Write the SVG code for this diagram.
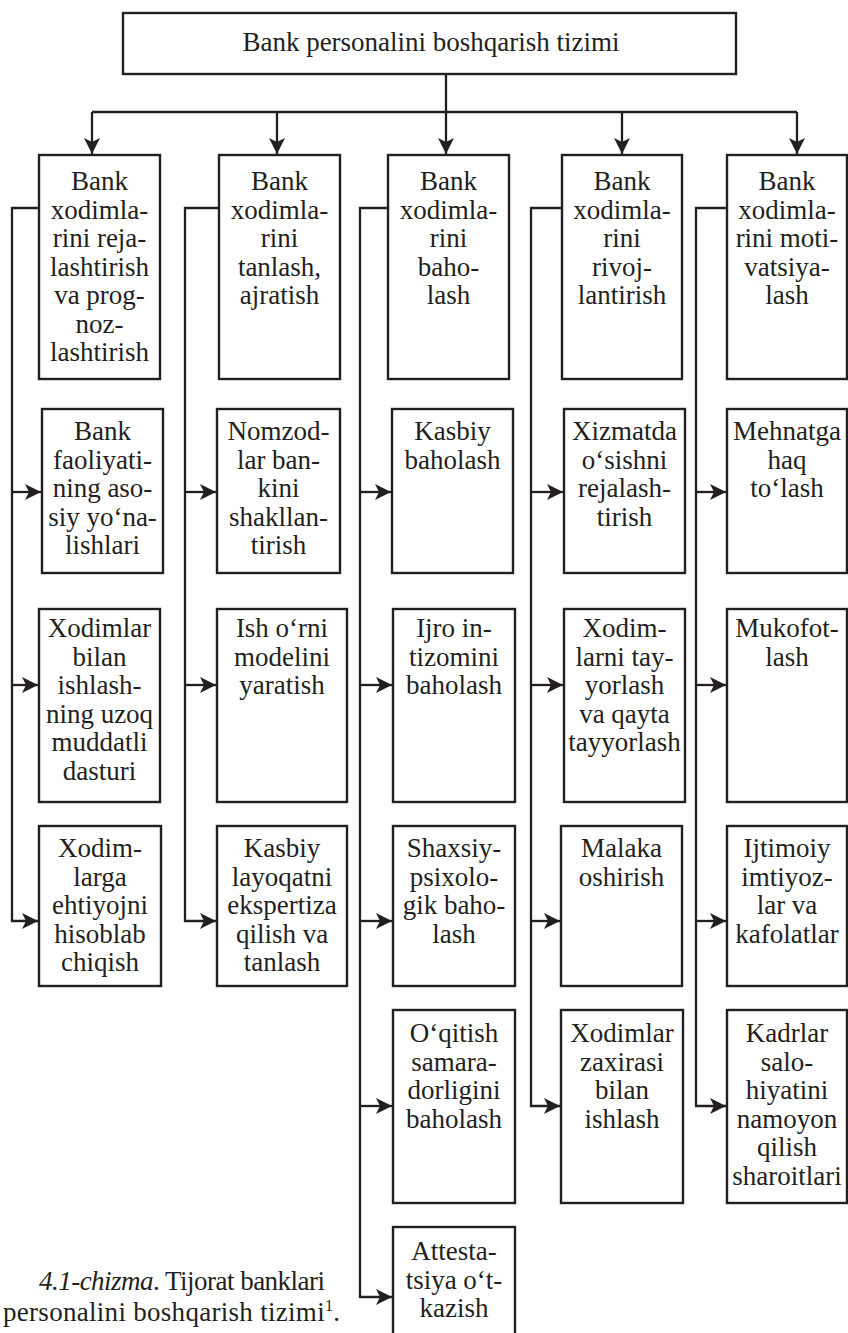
<svg xmlns="http://www.w3.org/2000/svg" width="848" height="1333" viewBox="0 0 848 1333">
  <style>
    .box { fill: #ffffff; stroke: #231f20; stroke-width: 2.4; }
    .con { fill: none; stroke: #231f20; stroke-width: 2.3; }
    .arr { marker-end: url(#head); }
    text { font-family: "Liberation Serif", "Times New Roman", serif; font-size: 27px; fill: #231f20; }
    .c { text-anchor: middle; }
    .it { font-style: italic; }
  </style>
  <defs>
    <marker id="head" viewBox="0 0 18 18" refX="17" refY="9" markerWidth="18" markerHeight="18" markerUnits="userSpaceOnUse" orient="auto">
      <path d="M17,9 L1,1 L5,9 L1,17 Z" fill="#231f20"/>
    </marker>
  </defs>

  <rect width="848" height="1333" fill="#ffffff"/>

  <!-- connectors -->
  <g id="connectors">
    <path class="con" d="M446,74 V112"/>
    <path class="con" d="M92,112 H797"/>
    <path class="con arr" d="M92,112 V154"/>
    <path class="con arr" d="M277,112 V154"/>
    <path class="con arr" d="M446,112 V154"/>
    <path class="con arr" d="M622,112 V154"/>
    <path class="con arr" d="M797,112 V154"/>

    <!-- column 1 -->
    <path class="con arr" d="M39,208 H12 V921 H38"/>
    <path class="con arr" d="M12,492 H41"/>
    <path class="con arr" d="M12,685 H38"/>
    <!-- column 2 -->
    <path class="con arr" d="M219,208 H185 V921 H216"/>
    <path class="con arr" d="M185,492 H216"/>
    <path class="con arr" d="M185,685 H216"/>
    <!-- column 3 -->
    <path class="con arr" d="M388,208 H360 V1297 H392"/>
    <path class="con arr" d="M360,492 H391"/>
    <path class="con arr" d="M360,685 H392"/>
    <path class="con arr" d="M360,921 H392"/>
    <path class="con arr" d="M360,1106 H392"/>
    <!-- column 4 -->
    <path class="con arr" d="M562,208 H531 V1106 H560"/>
    <path class="con arr" d="M531,492 H563"/>
    <path class="con arr" d="M531,685 H563"/>
    <path class="con arr" d="M531,921 H560"/>
    <!-- column 5 -->
    <path class="con arr" d="M727,208 H696 V1106 H726"/>
    <path class="con arr" d="M696,492 H726"/>
    <path class="con arr" d="M696,685 H726"/>
    <path class="con arr" d="M696,921 H726"/>
  </g>

  <!-- root -->
  <g id="root">
    <rect class="box" x="123" y="13" width="613" height="61"/>
    <text class="c" x="431" y="51">Bank personalini boshqarish tizimi</text>
  </g>

  <!-- column 1 -->
  <g id="c1r1">
    <rect class="box" x="39" y="155" width="121" height="224"/>
    <text class="c" x="99.5" y="190">Bank</text>
    <text class="c" x="99.5" y="218.5">xodimla-</text>
    <text class="c" x="99.5" y="247">rini reja-</text>
    <text class="c" x="99.5" y="275.5">lashtirish</text>
    <text class="c" x="99.5" y="304">va prog-</text>
    <text class="c" x="99.5" y="332.5">noz-</text>
    <text class="c" x="99.5" y="361">lashtirish</text>
  </g>
  <g id="c1r2">
    <rect class="box" x="42" y="409" width="121" height="164"/>
    <text class="c" x="102.5" y="440">Bank</text>
    <text class="c" x="102.5" y="468.5">faoliyati-</text>
    <text class="c" x="102.5" y="497">ning aso-</text>
    <text class="c" x="102.5" y="525.5">siy yo‘na-</text>
    <text class="c" x="102.5" y="554">lishlari</text>
  </g>
  <g id="c1r3">
    <rect class="box" x="39" y="609" width="121" height="193"/>
    <text class="c" x="99.5" y="637">Xodimlar</text>
    <text class="c" x="99.5" y="665.5">bilan</text>
    <text class="c" x="99.5" y="694">ishlash-</text>
    <text class="c" x="99.5" y="722.5">ning uzoq</text>
    <text class="c" x="99.5" y="751">muddatli</text>
    <text class="c" x="99.5" y="779.5">dasturi</text>
  </g>
  <g id="c1r4">
    <rect class="box" x="39" y="826" width="122" height="160"/>
    <text class="c" x="100" y="857">Xodim-</text>
    <text class="c" x="100" y="885.5">larga</text>
    <text class="c" x="100" y="914">ehtiyojni</text>
    <text class="c" x="100" y="942.5">hisoblab</text>
    <text class="c" x="100" y="971">chiqish</text>
  </g>

  <!-- column 2 -->
  <g id="c2r1">
    <rect class="box" x="219" y="155" width="121" height="224"/>
    <text class="c" x="279.5" y="190">Bank</text>
    <text class="c" x="279.5" y="218.5">xodimla-</text>
    <text class="c" x="279.5" y="247">rini</text>
    <text class="c" x="279.5" y="275.5">tanlash,</text>
    <text class="c" x="279.5" y="304">ajratish</text>
  </g>
  <g id="c2r2">
    <rect class="box" x="217" y="409" width="123" height="164"/>
    <text class="c" x="278.5" y="440">Nomzod-</text>
    <text class="c" x="278.5" y="468.5">lar ban-</text>
    <text class="c" x="278.5" y="497">kini</text>
    <text class="c" x="278.5" y="525.5">shakllan-</text>
    <text class="c" x="278.5" y="554">tirish</text>
  </g>
  <g id="c2r3">
    <rect class="box" x="217" y="609" width="130" height="193"/>
    <text class="c" x="282" y="637">Ish o‘rni</text>
    <text class="c" x="282" y="665.5">modelini</text>
    <text class="c" x="282" y="694">yaratish</text>
  </g>
  <g id="c2r4">
    <rect class="box" x="217" y="826" width="130" height="160"/>
    <text class="c" x="282" y="857">Kasbiy</text>
    <text class="c" x="282" y="885.5">layoqatni</text>
    <text class="c" x="282" y="914">ekspertiza</text>
    <text class="c" x="282" y="942.5">qilish va</text>
    <text class="c" x="282" y="971">tanlash</text>
  </g>

  <!-- column 3 -->
  <g id="c3r1">
    <rect class="box" x="388" y="155" width="121" height="224"/>
    <text class="c" x="448.5" y="190">Bank</text>
    <text class="c" x="448.5" y="218.5">xodimla-</text>
    <text class="c" x="448.5" y="247">rini</text>
    <text class="c" x="448.5" y="275.5">baho-</text>
    <text class="c" x="448.5" y="304">lash</text>
  </g>
  <g id="c3r2">
    <rect class="box" x="392" y="409" width="121" height="164"/>
    <text class="c" x="452.5" y="440">Kasbiy</text>
    <text class="c" x="452.5" y="468.5">baholash</text>
  </g>
  <g id="c3r3">
    <rect class="box" x="393" y="609" width="122" height="193"/>
    <text class="c" x="454" y="637">Ijro in-</text>
    <text class="c" x="454" y="665.5">tizomini</text>
    <text class="c" x="454" y="694">baholash</text>
  </g>
  <g id="c3r4">
    <rect class="box" x="393" y="826" width="122" height="160"/>
    <text class="c" x="454" y="857">Shaxsiy-</text>
    <text class="c" x="454" y="885.5">psixolo-</text>
    <text class="c" x="454" y="914">gik baho-</text>
    <text class="c" x="454" y="942.5">lash</text>
  </g>
  <g id="c3r5">
    <rect class="box" x="393" y="1010" width="122" height="193"/>
    <text class="c" x="454" y="1042">O‘qitish</text>
    <text class="c" x="454" y="1070.5">samara-</text>
    <text class="c" x="454" y="1099">dorligini</text>
    <text class="c" x="454" y="1127.5">baholash</text>
  </g>
  <g id="c3r6">
    <rect class="box" x="393" y="1227" width="122" height="120"/>
    <text class="c" x="454" y="1260">Attesta-</text>
    <text class="c" x="454" y="1288.5">tsiya o‘t-</text>
    <text class="c" x="454" y="1317">kazish</text>
  </g>

  <!-- column 4 -->
  <g id="c4r1">
    <rect class="box" x="562" y="155" width="120" height="224"/>
    <text class="c" x="622" y="190">Bank</text>
    <text class="c" x="622" y="218.5">xodimla-</text>
    <text class="c" x="622" y="247">rini</text>
    <text class="c" x="622" y="275.5">rivoj-</text>
    <text class="c" x="622" y="304">lantirish</text>
  </g>
  <g id="c4r2">
    <rect class="box" x="564" y="409" width="121" height="164"/>
    <text class="c" x="624.5" y="440">Xizmatda</text>
    <text class="c" x="624.5" y="468.5">o‘sishni</text>
    <text class="c" x="624.5" y="497">rejalash-</text>
    <text class="c" x="624.5" y="525.5">tirish</text>
  </g>
  <g id="c4r3">
    <rect class="box" x="564" y="609" width="121" height="193"/>
    <text class="c" x="624.5" y="637">Xodim-</text>
    <text class="c" x="624.5" y="665.5">larni tay-</text>
    <text class="c" x="624.5" y="694">yorlash</text>
    <text class="c" x="624.5" y="722.5">va qayta</text>
    <text class="c" x="624.5" y="751">tayyorlash</text>
  </g>
  <g id="c4r4">
    <rect class="box" x="561" y="826" width="121" height="160"/>
    <text class="c" x="621.5" y="857">Malaka</text>
    <text class="c" x="621.5" y="885.5">oshirish</text>
  </g>
  <g id="c4r5">
    <rect class="box" x="561" y="1010" width="122" height="193"/>
    <text class="c" x="622" y="1042">Xodimlar</text>
    <text class="c" x="622" y="1070.5">zaxirasi</text>
    <text class="c" x="622" y="1099">bilan</text>
    <text class="c" x="622" y="1127.5">ishlash</text>
  </g>

  <!-- column 5 -->
  <g id="c5r1">
    <rect class="box" x="727" y="155" width="120" height="224"/>
    <text class="c" x="787" y="190">Bank</text>
    <text class="c" x="787" y="218.5">xodimla-</text>
    <text class="c" x="787" y="247">rini moti-</text>
    <text class="c" x="787" y="275.5">vatsiya-</text>
    <text class="c" x="787" y="304">lash</text>
  </g>
  <g id="c5r2">
    <rect class="box" x="727" y="409" width="120" height="164"/>
    <text class="c" x="787" y="440">Mehnatga</text>
    <text class="c" x="787" y="468.5">haq</text>
    <text class="c" x="787" y="497">to‘lash</text>
  </g>
  <g id="c5r3">
    <rect class="box" x="727" y="609" width="120" height="193"/>
    <text class="c" x="787" y="637">Mukofot-</text>
    <text class="c" x="787" y="665.5">lash</text>
  </g>
  <g id="c5r4">
    <rect class="box" x="727" y="826" width="120" height="160"/>
    <text class="c" x="787" y="857">Ijtimoiy</text>
    <text class="c" x="787" y="885.5">imtiyoz-</text>
    <text class="c" x="787" y="914">lar va</text>
    <text class="c" x="787" y="942.5">kafolatlar</text>
  </g>
  <g id="c5r5">
    <rect class="box" x="727" y="1010" width="120" height="193"/>
    <text class="c" x="787" y="1042">Kadrlar</text>
    <text class="c" x="787" y="1070.5">salo-</text>
    <text class="c" x="787" y="1099">hiyatini</text>
    <text class="c" x="787" y="1127.5">namoyon</text>
    <text class="c" x="787" y="1156">qilish</text>
    <text class="c" x="787" y="1184.5">sharoitlari</text>
  </g>

  <!-- caption -->
  <g id="caption">
    <text x="39" y="1290" textLength="286" lengthAdjust="spacing"><tspan class="it">4.1-chizma</tspan>. Tijorat banklari</text>
    <text x="3" y="1321" textLength="337" lengthAdjust="spacing">personalini boshqarish tizimi<tspan font-size="16" dy="-10">1</tspan><tspan dy="10">.</tspan></text>
  </g>
</svg>
